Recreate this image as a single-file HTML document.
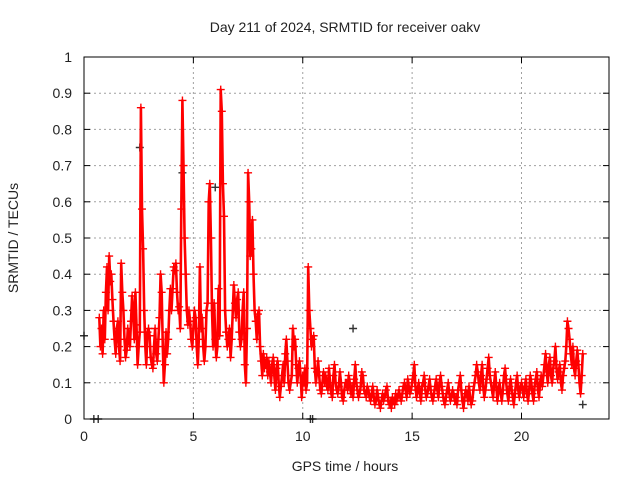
<!DOCTYPE html>
<html><head><meta charset="utf-8"><style>
body{margin:0;background:#fff;}
svg text{font-family:"Liberation Sans",sans-serif;fill:#222;}
</style></head><body>
<svg id="chart" width="640" height="480" xmlns="http://www.w3.org/2000/svg">
<rect width="640" height="480" fill="#fff"/>
<g id="grid"></g>
<g id="marks"></g>
<rect x="84" y="57" width="525" height="362" fill="none" stroke="#000" stroke-width="1"/>
<g id="axes"></g>
<text x="345" y="32" font-size="14" text-anchor="middle">Day 211 of 2024, SRMTID for receiver oakv</text>
<text x="345" y="471" font-size="14" text-anchor="middle">GPS time / hours</text>
<text x="18" y="238" font-size="14" text-anchor="middle" transform="rotate(-90 18 238)">SRMTID / TECUs</text>
</svg>
<script>
const xTicks=[0,5,10,15,20];
const yTicks=[0,0.1,0.2,0.3,0.4,0.5,0.6,0.7,0.8,0.9,1];
const yTickLabels=["0","0.1","0.2","0.3","0.4","0.5","0.6","0.7","0.8","0.9","1"];
const startTime=0.7;
const timeStep=0.05;
const redValues=[
0.28,0.2,0.25,0.18,0.3,0.22,
0.35,0.42,0.3,0.45,0.38,0.4,0.33,0.27,0.22,0.18,0.25,0.27,0.2,0.16,0.43,0.35,0.3,0.22,0.17,0.19,
0.25,0.22,0.2,0.27,0.34,0.3,0.22,0.35,0.26,0.15,0.2,0.24,0.86,0.58,0.47,0.3,0.2,0.15,0.24,0.25,
0.23,0.17,0.15,0.14,0.2,0.25,0.18,0.16,0.22,0.28,0.4,0.35,0.2,0.1,0.15,0.24,0.18,0.22,0.3,0.36,
0.3,0.36,0.42,0.41,0.43,0.35,0.3,0.31,0.25,0.58,0.88,0.7,0.5,0.4,0.3,0.26,0.3,0.27,0.22,0.2,
0.25,0.3,0.28,0.2,0.15,0.22,0.42,0.25,0.28,0.2,0.16,0.2,0.3,0.32,0.6,0.65,0.5,0.3,0.2,0.32,
0.22,0.17,0.2,0.36,0.23,0.91,0.85,0.65,0.56,0.3,0.24,0.2,0.22,0.25,0.17,0.22,0.3,0.37,0.32,0.28,
0.33,0.35,0.24,0.2,0.22,0.3,0.35,0.15,0.1,0.25,0.68,0.6,0.45,0.47,0.55,0.4,0.3,0.27,0.22,0.29,
0.3,0.2,0.16,0.12,0.18,0.14,0.15,0.17,0.12,0.16,0.13,0.1,0.15,0.17,0.12,0.08,0.14,0.16,0.1,0.06,
0.09,0.12,0.15,0.1,0.18,0.22,0.16,0.1,0.08,0.1,0.12,0.25,0.2,0.22,0.15,0.1,0.14,0.16,0.12,0.06,
0.12,0.1,0.14,0.08,0.1,0.42,0.3,0.25,0.2,0.22,0.23,0.14,0.1,0.13,0.16,0.12,0.08,0.07,0.1,0.13,
0.1,0.12,0.09,0.08,0.14,0.1,0.07,0.06,0.12,0.15,0.1,0.08,0.07,0.09,0.13,0.1,0.06,0.05,0.08,0.1,
0.1,0.08,0.12,0.1,0.07,0.09,0.06,0.11,0.15,0.1,0.08,0.06,0.07,0.09,0.13,0.12,0.08,0.07,0.06,0.09,
0.08,0.06,0.05,0.07,0.09,0.06,0.04,0.05,0.08,0.06,0.04,0.03,0.05,0.07,0.05,0.06,0.08,0.09,0.05,0.04,
0.05,0.03,0.06,0.05,0.04,0.07,0.05,0.06,0.08,0.06,0.05,0.07,0.09,0.1,0.08,0.06,0.11,0.09,0.07,0.08,
0.1,0.12,0.15,0.09,0.06,0.08,0.1,0.07,0.05,0.09,0.1,0.12,0.08,0.06,0.07,0.09,0.11,0.08,0.06,0.05,
0.07,0.09,0.11,0.08,0.06,0.1,0.12,0.09,0.07,0.05,0.04,0.06,0.08,0.1,0.07,0.05,0.06,0.08,0.07,0.05,
0.06,0.04,0.08,0.1,0.12,0.08,0.05,0.03,0.06,0.08,0.07,0.05,0.09,0.06,0.04,0.05,0.08,0.1,0.12,0.15,
0.13,0.1,0.08,0.12,0.15,0.09,0.06,0.08,0.11,0.14,0.17,0.12,0.1,0.08,0.06,0.1,0.13,0.09,0.05,0.08,
0.1,0.07,0.05,0.08,0.12,0.14,0.1,0.07,0.05,0.09,0.11,0.08,0.06,0.04,0.07,0.1,0.12,0.08,0.06,0.09,
0.1,0.08,0.06,0.09,0.11,0.07,0.05,0.08,0.12,0.1,0.07,0.05,0.09,0.11,0.13,0.08,0.06,0.1,0.12,0.09,
0.12,0.15,0.18,0.13,0.1,0.15,0.17,0.12,0.1,0.14,0.16,0.2,0.14,0.11,0.13,0.15,0.1,0.08,0.12,0.14,
0.16,0.2,0.27,0.25,0.22,0.18,0.15,0.2,0.14,0.12,0.16,0.19,0.15,0.1,0.07,0.12,0.18];
const grayTimes=[0.0,0.45,0.65,2.55,4.5,6.0,10.35,10.45,12.3,22.8];
const grayValues=[0.23,0.0,0.0,0.75,0.68,0.64,0.0,0.0,0.25,0.04];
const X0=84,X1=609,Y0=419,Y1=57,XMAX=24;
const sx=t=>X0+t/XMAX*(X1-X0);
const sy=v=>Y0-v*(Y0-Y1);
const NS="http://www.w3.org/2000/svg";
function mk(tag,attrs,parent){const e=document.createElementNS(NS,tag);for(const k in attrs)e.setAttribute(k,attrs[k]);parent.appendChild(e);return e;}
const grid=document.getElementById('grid'),axes=document.getElementById('axes'),marks=document.getElementById('marks');
xTicks.forEach(t=>{
 const x=sx(t);
 if(t>0){const g=mk('line',{x1:x,x2:x,y1:Y0,y2:Y1,stroke:'#a0a0a0','stroke-dasharray':'2,3'},grid);
 
 }
 mk('line',{x1:x,x2:x,y1:Y0,y2:Y0-6,stroke:'#000'},axes);
 mk('line',{x1:x,x2:x,y1:Y1,y2:Y1+6,stroke:'#000'},axes);
 const tx=mk('text',{x:x,y:Y0+22,'font-size':14,'text-anchor':'middle'},axes);
 
 
 tx.textContent=t;
});
yTicks.forEach((v,i)=>{
 const y=sy(v);
 if(i>0&&i<yTicks.length-1){const g=mk('line',{x1:X0,x2:X1,y1:y,y2:y,stroke:'#a0a0a0','stroke-dasharray':'2,3'},grid);
 
 }
 mk('line',{x1:X0,x2:X0+6,y1:y,y2:y,stroke:'#000'},axes);
 mk('line',{x1:X1,x2:X1-6,y1:y,y2:y,stroke:'#000'},axes);
 const tx=mk('text',{x:X0-12,y:y+5,'font-size':14,'text-anchor':'end'},axes);
 
 
 tx.textContent=yTickLabels[i];
});
function cross(x,y,col,name){
 const p=mk('path',{d:`M${x-4},${y}h8M${x},${y-4}v8`,stroke:col,'stroke-width':1.4,fill:'none'},marks);
 
 
}
grayValues.forEach((v,i)=>cross(sx(grayTimes[i]),sy(v),'#333','gray-point'));
let pts=[];
redValues.forEach((v,i)=>pts.push(sx(startTime+i*timeStep).toFixed(1)+','+sy(v).toFixed(1)));
const pl=mk('polyline',{points:pts.join(' '),fill:'none',stroke:'#f00','stroke-width':2.6,'stroke-linejoin':'round'},marks);


redValues.forEach((v,i)=>cross(sx(startTime+i*timeStep),sy(v),'#f00','red-point'));
</script>
</body></html>
